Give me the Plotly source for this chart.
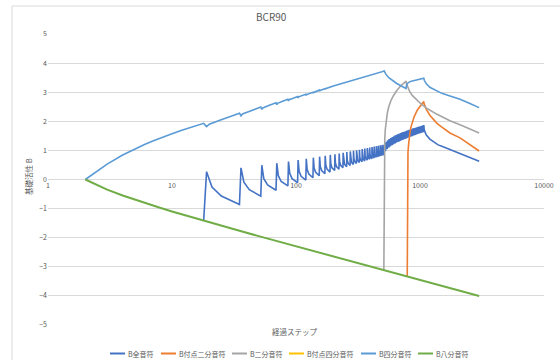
import plotly.graph_objects as go

# ---------------- data ----------------
series_names = ["B全音符", "B付点二分音符", "B二分音符", "B付点四分音符", "B四分音符", "B八分音符"]
series_colors = ["#4472C4", "#ED7D31", "#A5A5A5", "#FFC000", "#5B9BD5", "#70AD47"]

# B八分音符 (green)
eighth_x = [2, 3, 4, 5, 6, 8, 10, 14, 18, 25, 35, 50, 70, 100, 150, 200, 300, 400, 511, 600, 790, 1000, 1500, 2000, 3000]
eighth_y = [0, -0.347, -0.549, -0.693, -0.805, -0.973, -1.099, -1.282, -1.417, -1.589, -1.763, -1.946, -2.117,
            -2.298, -2.502, -2.647, -2.850, -2.995, -3.117, -3.198, -3.336, -3.453, -3.656, -3.800, -4.003]

# B四分音符 (light blue)
quarter_x = [2, 3, 4, 5, 6, 7, 8, 10, 12, 14, 16, 18, 19, 20, 24, 28, 35, 36, 37, 44, 52, 53, 54, 61, 69, 70, 71,
             78, 86, 87, 88, 95, 103, 104, 105, 120, 121, 122, 137, 138, 139, 154, 155, 156, 171, 172, 173,
             200, 250, 300, 350, 400, 450, 511, 512, 530, 560, 600, 650, 700, 740, 772, 780, 805, 850, 900,
             1000, 1073, 1085, 1100, 1125, 1200, 1372, 1500, 1745, 2103, 2500, 3000]
quarter_y = [0, 0.53, 0.84, 1.05, 1.20, 1.32, 1.42, 1.57, 1.69, 1.79, 1.87, 1.93, 1.82, 1.90, 2.03, 2.13, 2.28,
             2.19, 2.25, 2.37, 2.49, 2.41, 2.46, 2.55, 2.64, 2.57, 2.62, 2.69, 2.76, 2.70, 2.74, 2.79, 2.85,
             2.80, 2.84, 2.93, 2.89, 2.92, 3.00, 2.97, 2.99, 3.07, 3.04, 3.06, 3.12, 3.10, 3.12,
             3.21, 3.33, 3.43, 3.51, 3.58, 3.64, 3.72, 3.75, 3.62, 3.50, 3.40, 3.30, 3.22, 3.17, 3.13, 3.26,
             3.33, 3.38, 3.41, 3.46, 3.48, 3.40, 3.35, 3.29, 3.17, 3.04, 2.96, 2.87, 2.76, 2.62, 2.47]

# B二分音符 (gray)
half_x = [511, 513, 514, 515, 517, 520, 525, 533, 545, 560, 580, 610, 650, 700, 740, 772, 780, 800, 830, 870,
          940, 1000, 1064, 1150, 1372, 1745, 2103, 2500, 3000]
half_y = [-3.12, 0.0, 0.53, 0.83, 1.17, 1.39, 1.72, 2.00, 2.28, 2.50, 2.69, 2.88, 3.06, 3.22, 3.31, 3.38, 3.28,
          3.14, 3.00, 2.88, 2.73, 2.63, 2.54, 2.43, 2.24, 2.02, 1.88, 1.75, 1.60]

# B付点二分音符 (orange)
dotted_half_x = [789, 791, 793, 796, 800, 806, 815, 826, 845, 870, 900, 950, 1000, 1040, 1073, 1080, 1100, 1125,
                 1200, 1372, 1500, 1745, 2103, 2500, 3000]
dotted_half_y = [-3.33, 0.0, 0.45, 0.72, 0.93, 1.12, 1.35, 1.55, 1.80, 2.00, 2.17, 2.38, 2.52, 2.62, 2.68, 2.60,
                 2.52, 2.41, 2.21, 1.93, 1.80, 1.60, 1.43, 1.22, 0.98]

# B付点四分音符 (yellow) – no visible points
dotted_quarter_x = []
dotted_quarter_y = []

# B全音符 (dark blue): start on the green line, then saw-tooth presentations
whole_start_x = [18]
whole_start_y = [-1.42]
whole_peak_x = [19, 36, 53, 70, 87, 104, 121, 138, 155, 172, 189, 206, 223, 240, 257, 274, 291, 308, 325, 342,
                359, 376, 393, 410, 427, 444, 461, 478, 495]
whole_peak_y = [0.27, 0.40, 0.49, 0.56, 0.62, 0.67, 0.71, 0.75, 0.785, 0.815, 0.845, 0.87, 0.895, 0.92,
                0.945, 0.965, 0.985, 1.005, 1.025, 1.045, 1.063, 1.080, 1.098, 1.114, 1.130, 1.145, 1.160,
                1.174, 1.188]
whole_after2_y = [-0.26, -0.09, 0.03, 0.13, 0.21, 0.28, 0.34, 0.395, 0.445, 0.49, 0.53, 0.57, 0.605,
                  0.637, 0.668, 0.698, 0.726, 0.753, 0.778, 0.801, 0.824, 0.846, 0.867, 0.888, 0.906, 0.926,
                  0.944, 0.961, 0.977]
whole_after6_y = [-0.57, -0.35, -0.19, -0.07, 0.03, 0.11, 0.185, 0.25, 0.305, 0.355, 0.403, 0.447, 0.488,
                  0.526, 0.560, 0.594, 0.625, 0.654, 0.682, 0.708, 0.733, 0.757, 0.780, 0.802, 0.823, 0.844,
                  0.863, 0.882, 0.900]
whole_trough_y = [-0.86, -0.57, -0.37, -0.22, -0.11, -0.02, 0.06, 0.131, 0.196, 0.255, 0.308, 0.356, 0.401,
                  0.442, 0.480, 0.516, 0.549, 0.581, 0.611, 0.639, 0.666, 0.692, 0.716, 0.740, 0.761, 0.783,
                  0.804, 0.824, 0.843]
# dense band after step 512
band_peak_x = [512, 529, 546, 563, 580, 597, 614, 631, 648, 665, 682, 699, 716, 733, 750, 767, 784, 801, 818,
               835, 852, 869, 886, 903, 920, 937, 954, 971, 988, 1005, 1022, 1039, 1056]
band_peak_y = [1.19, 1.28, 1.34, 1.39, 1.43, 1.46, 1.49, 1.52, 1.54, 1.56, 1.58, 1.60, 1.62, 1.63, 1.65, 1.66,
               1.68, 1.69, 1.71, 1.72, 1.73, 1.75, 1.76, 1.77, 1.78, 1.79, 1.80, 1.81, 1.82, 1.83, 1.84, 1.85,
               1.86]
band_trough_y = [0.98, 1.05, 1.10, 1.14, 1.18, 1.21, 1.24, 1.27, 1.29, 1.31, 1.33, 1.35, 1.37, 1.39, 1.40, 1.42,
                 1.44, 1.45, 1.47, 1.48, 1.49, 1.51, 1.52, 1.53, 1.55, 1.56, 1.57, 1.58, 1.59, 1.60, 1.61, 1.62,
                 1.63]
whole_tail_x = [1073, 1080, 1090, 1100, 1125, 1200, 1283, 1400, 1500, 1745, 2000, 2362, 2700, 3000]
whole_tail_y = [1.87, 1.74, 1.66, 1.61, 1.53, 1.39, 1.29, 1.19, 1.14, 1.03, 0.94, 0.83, 0.72, 0.63]

x_tick_vals = [1, 10, 100, 1000, 10000]
x_tick_text = ["1", "10", "100", "1000", "10000"]
y_tick_vals = [5, 4, 3, 2, 1, 0, -1, -2, -3, -4, -5]
title_text = "BCR90"
x_title = "経過ステップ"
y_title = "基礎活性 B"

# ---------------- build the dark-blue series from the tables ----------------
whole_x = list(whole_start_x)
whole_y = list(whole_start_y)
for p, a, b, c, d in zip(whole_peak_x, whole_peak_y, whole_after2_y, whole_after6_y, whole_trough_y):
    whole_x += [p, p + 2, p + 6, p + 16]
    whole_y += [a, b, c, d]
for p, a, d in zip(band_peak_x, band_peak_y, band_trough_y):
    whole_x += [p, p + 16]
    whole_y += [a, d]
whole_x += whole_tail_x
whole_y += whole_tail_y

data_x = [whole_x, dotted_half_x, half_x, dotted_quarter_x, quarter_x, eighth_x]
data_y = [whole_y, dotted_half_y, half_y, dotted_quarter_y, quarter_y, eighth_y]
widths = [1.6, 1.6, 1.6, 1.6, 1.6, 2.0]

FONT = "Noto Sans CJK JP, Noto Sans, sans-serif"
TXT = "#595959"

fig = go.Figure()
for name, col, xs, ys, w in zip(series_names, series_colors, data_x, data_y, widths):
    fig.add_trace(go.Scatter(x=xs, y=ys, mode="lines", name=name,
                             line=dict(color=col, width=w), showlegend=False))

W, H = 560, 360
L, R, T, B = 48, 16, 34, 35
pw, ph = W - L - R, H - T - B


def px(xp):
    return (xp - L) / pw


def py(yp):
    return (H - B - yp) / ph


shapes = [
    dict(type="line", xref="paper", yref="paper", x0=px(12), x1=px(560), y0=py(6), y1=py(6),
         line=dict(color="#d9d9d9", width=1)),
    dict(type="line", xref="paper", yref="paper", x0=px(12), x1=px(12), y0=py(6), y1=py(362),
         line=dict(color="#d9d9d9", width=1)),
]


def label(text, xp, yp, size, xanchor="center", angle=0):
    return dict(text=text, x=px(xp), y=py(yp), xref="paper", yref="paper", showarrow=False,
                xanchor=xanchor, yanchor="middle", textangle=angle,
                font=dict(size=size, color=TXT, family=FONT))


annotations = [
    label(title_text, 271, 17, 10),
    label(x_title, 295, 331, 7.5),
    label(y_title, 28, 177, 7.5, angle=-90),
]
# manual legend (short line symbols like the original)
leg_line_x0 = [110, 161, 232, 289, 361, 418]
for name, col, x0 in zip(series_names, series_colors, leg_line_x0):
    shapes.append(dict(type="line", xref="paper", yref="paper", x0=px(x0), x1=px(x0 + 15),
                       y0=py(353.5), y1=py(353.5), line=dict(color=col, width=2)))
    annotations.append(label(name, x0 + 16, 353.5, 7, xanchor="left"))

fig.update_layout(
    template="none",
    width=W, height=H, margin=dict(l=L, r=R, t=T, b=B, autoexpand=False),
    paper_bgcolor="white", plot_bgcolor="white",
    shapes=shapes, annotations=annotations, showlegend=False,
    font=dict(family=FONT, color=TXT),
)
fig.update_xaxes(type="log", range=[0, 4], showgrid=False, zeroline=False, showline=False, automargin=False,
                 anchor="free", position=0.5, tickvals=x_tick_vals, ticktext=x_tick_text,
                 ticks="", tickfont=dict(size=7, color=TXT, family=FONT))
fig.update_yaxes(range=[-5, 5], tickvals=y_tick_vals, showgrid=True, gridcolor="#d9d9d9", gridwidth=1,
                 zeroline=False, showline=False, ticks="", automargin=False,
                 tickfont=dict(size=7, color=TXT, family=FONT))

fig.write_html("out.html", config={"displayModeBar": False},
               post_script="document.body.style.margin='0px';document.body.style.padding='0px';")
